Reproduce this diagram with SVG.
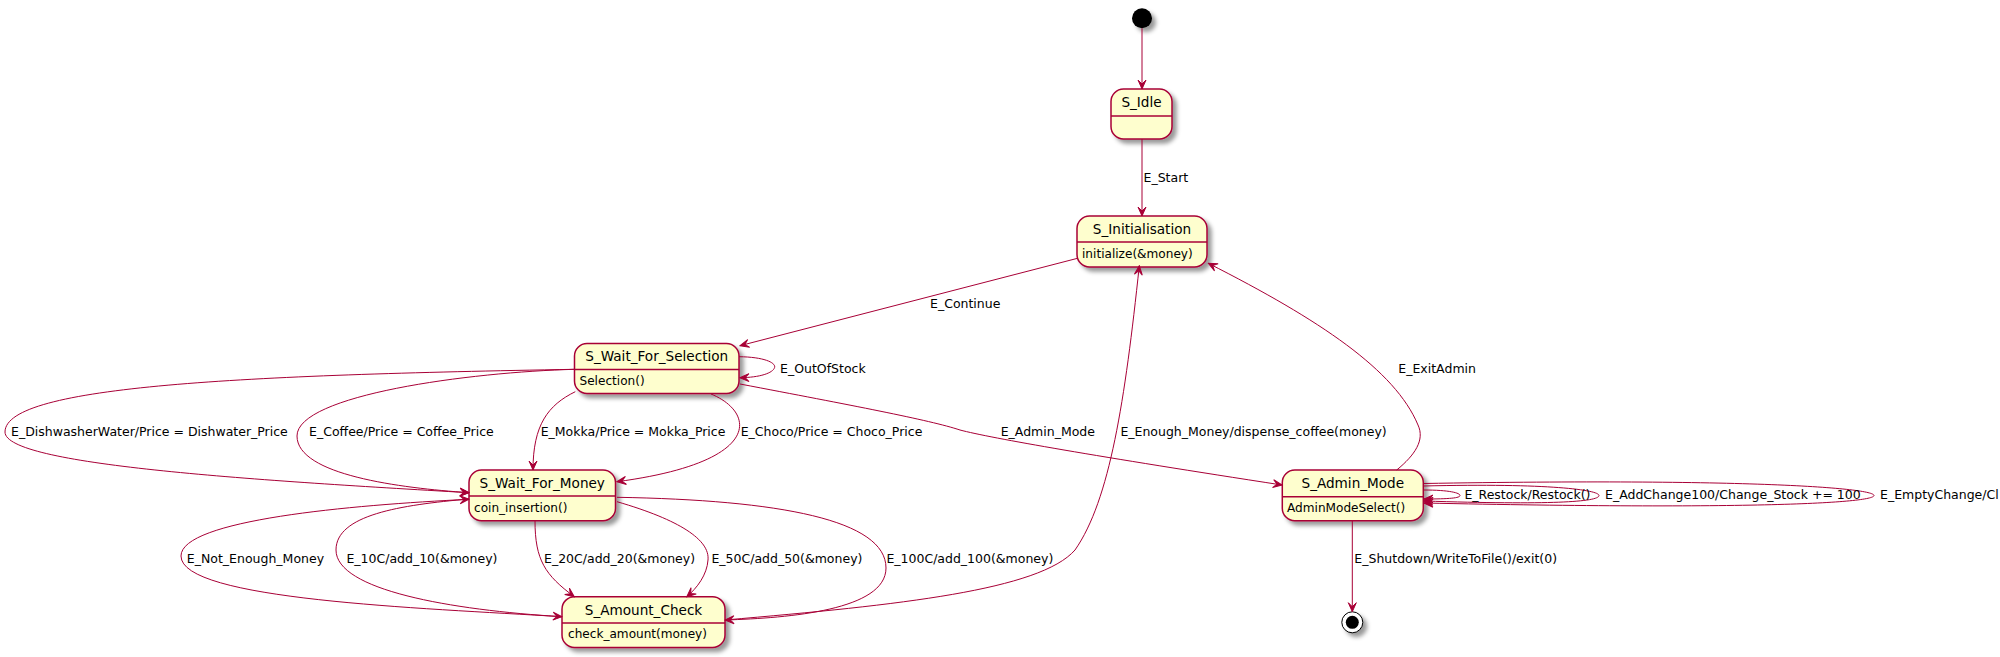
<svg xmlns="http://www.w3.org/2000/svg" width="2000" height="657" viewBox="0 0 2000 657">
<style>
.st{fill:#FEFECE;stroke:#A80036;stroke-width:1.5}
.dv{stroke:#A80036;stroke-width:1.5}
.e{fill:none;stroke:#A80036;stroke-width:1}
.t{font-family:"DejaVu Sans",sans-serif;font-size:13.6px;fill:#000;text-anchor:middle}
.a{font-family:"DejaVu Sans",sans-serif;font-size:12.1px;fill:#000}
.l{font-family:"DejaVu Sans",sans-serif;font-size:12.5px;fill:#000}
</style>
<defs>
<filter id="sh" x="-1" y="-1" width="300%" height="300%">
<feGaussianBlur result="b1" stdDeviation="2"/>
<feColorMatrix in="b1" result="b2" type="matrix" values="0 0 0 0 0 0 0 0 0 0 0 0 0 0 0 0 0 0 .4 0"/>
<feOffset dx="4" dy="4" in="b2" result="b3"/>
<feBlend in="SourceGraphic" in2="b3" mode="normal"/>
</filter>
<marker id="ar" viewBox="-10 -5 11 10" refX="0" refY="0" markerWidth="11" markerHeight="10" markerUnits="userSpaceOnUse" orient="auto">
<path d="M0,0 L-9,-4 L-5,0 L-9,4 Z" fill="#A80036" stroke="#A80036" stroke-width="1"/>
</marker>
</defs>

<g id="start"><circle cx="1142" cy="18.3" r="10" fill="#000" filter="url(#sh)"/></g>

<g id="S_Idle">
<rect class="st" x="1111" y="89" width="61" height="50" rx="12.5" filter="url(#sh)"/>
<line class="dv" x1="1111" y1="116" x2="1172" y2="116"/>
<text class="t" x="1141.5" y="107">S_Idle</text>
</g>

<g id="S_Initialisation">
<rect class="st" x="1077" y="216" width="130" height="51" rx="12.5" filter="url(#sh)"/>
<line class="dv" x1="1077" y1="242" x2="1207" y2="242"/>
<text class="t" x="1142" y="234">S_Initialisation</text>
<text class="a" x="1082" y="258">initialize(&amp;money)</text>
</g>

<g id="S_Wait_For_Selection">
<rect class="st" x="574.5" y="343.5" width="164.5" height="50" rx="12.5" filter="url(#sh)"/>
<line class="dv" x1="574.5" y1="369.5" x2="739" y2="369.5"/>
<text class="t" x="656.75" y="361">S_Wait_For_Selection</text>
<text class="a" x="579.5" y="384.5">Selection()</text>
</g>

<g id="S_Wait_For_Money">
<rect class="st" x="469" y="470" width="146.5" height="50.7" rx="12.5" filter="url(#sh)"/>
<line class="dv" x1="469" y1="496" x2="615.5" y2="496"/>
<text class="t" x="542.25" y="488.3">S_Wait_For_Money</text>
<text class="a" x="474" y="511.7">coin_insertion()</text>
</g>

<g id="S_Amount_Check">
<rect class="st" x="562" y="596.7" width="163" height="50.7" rx="12.5" filter="url(#sh)"/>
<line class="dv" x1="562" y1="623" x2="725" y2="623"/>
<text class="t" x="643.5" y="615">S_Amount_Check</text>
<text class="a" x="568" y="638">check_amount(money)</text>
</g>

<g id="S_Admin_Mode">
<rect class="st" x="1282.3" y="470" width="141" height="50.7" rx="12.5" filter="url(#sh)"/>
<line class="dv" x1="1282.3" y1="496.7" x2="1423.3" y2="496.7"/>
<text class="t" x="1352.8" y="488.3">S_Admin_Mode</text>
<text class="a" x="1287" y="511.7">AdminModeSelect()</text>
</g>

<g id="end">
<circle cx="1352.3" cy="622.3" r="10.5" fill="#fff" stroke="#000" stroke-width="1" filter="url(#sh)"/>
<circle cx="1352.3" cy="622.3" r="6.5" fill="#000"/>
</g>

<g id="connectors">
<path class="e" marker-end="url(#ar)" d="M1142,28.3 L1142,89"/>
<path class="e" marker-end="url(#ar)" d="M1142,139 L1142,216"/>
<path class="e" marker-end="url(#ar)" d="M1077.5,258.3 L740,345.7"/>
<path class="e" marker-end="url(#ar)" d="M739,356.7 C765,357 776,363 774.6,367.5 C773,373 760,377.5 740,377.7"/>
<path class="e" marker-end="url(#ar)" d="M575,369.3 C250,375 5,385 5,432 C5,465 250,480 469,492.7"/>
<path class="e" marker-end="url(#ar)" d="M575,369.3 C470,372 297,395 297,436 C297,475 400,488 469,492.7"/>
<path class="e" marker-end="url(#ar)" d="M575.3,391.7 C548,405 533,425 533,470"/>
<path class="e" marker-end="url(#ar)" d="M711,394 C755,412 765,462 617,481.7"/>
<path class="e" marker-end="url(#ar)" d="M740,384 C850,405 930,420 960,430 C990,438 1100,457 1282,485"/>
<path class="e" marker-end="url(#ar)" d="M469,499 C400,505 336,515 336,550 C336,590 450,610 562,616.7"/>
<path class="e" marker-end="url(#ar)" d="M562,616.7 C420,608 181,600 181,556 C181,520 350,505 469,499.3"/>
<path class="e" marker-end="url(#ar)" d="M535,520.7 C535,560 545,575 574.3,596.7"/>
<path class="e" marker-end="url(#ar)" d="M617,501.7 C680,520 710,540 708,560 C707,575 697,588 686.8,596.7"/>
<path class="e" marker-end="url(#ar)" d="M617,497.3 C780,500 886,520 886,568 C886,610 790,618 725,620"/>
<path class="e" marker-end="url(#ar)" d="M725,620 C900,605 1040,590 1075,550 C1110,500 1125,400 1139.3,265.7"/>
<path class="e" marker-end="url(#ar)" d="M1396.7,470 C1415,455 1425,440 1418,425 C1395,370 1320,320 1208.3,263.3"/>
<path class="e" marker-end="url(#ar)" d="M1352.3,520.7 L1352.3,611.7"/>
<path class="e" marker-end="url(#ar)" d="M1423.3,490 C1450,490 1460,493 1460,495.5 C1460,498 1450,499 1424,499"/>
<path class="e" marker-end="url(#ar)" d="M1423.3,486 C1550,483 1599,490 1599,495.5 C1599,502 1550,505 1424,501"/>
<path class="e" marker-end="url(#ar)" d="M1423.3,483.5 C1750,478 1874,488 1874,495.5 C1874,503 1750,510 1424,503"/>
</g>

<g id="labels">
<text class="l" x="1143.5" y="182">E_Start</text>
<text class="l" x="930" y="308.3">E_Continue</text>
<text class="l" x="780" y="372.7">E_OutOfStock</text>
<text class="l" x="11" y="436">E_DishwasherWater/Price = Dishwater_Price</text>
<text class="l" x="309" y="436">E_Coffee/Price = Coffee_Price</text>
<text class="l" x="540.7" y="435.7">E_Mokka/Price = Mokka_Price</text>
<text class="l" x="740.7" y="435.7">E_Choco/Price = Choco_Price</text>
<text class="l" x="1000.7" y="435.7">E_Admin_Mode</text>
<text class="l" x="1120.4" y="435.7">E_Enough_Money/dispense_coffee(money)</text>
<text class="l" x="1398.3" y="372.7">E_ExitAdmin</text>
<text class="l" x="1464.4" y="499.3">E_Restock/Restock()</text>
<text class="l" x="1605" y="499.3">E_AddChange100/Change_Stock += 100</text>
<text class="l" x="1880" y="499.3">E_EmptyChange/Cl</text>
<text class="l" x="186.8" y="562.7">E_Not_Enough_Money</text>
<text class="l" x="346.4" y="562.7">E_10C/add_10(&amp;money)</text>
<text class="l" x="544" y="562.7">E_20C/add_20(&amp;money)</text>
<text class="l" x="711.4" y="562.7">E_50C/add_50(&amp;money)</text>
<text class="l" x="886.4" y="562.7">E_100C/add_100(&amp;money)</text>
<text class="l" x="1354.3" y="562.7">E_Shutdown/WriteToFile()/exit(0)</text>
</g>
</svg>
